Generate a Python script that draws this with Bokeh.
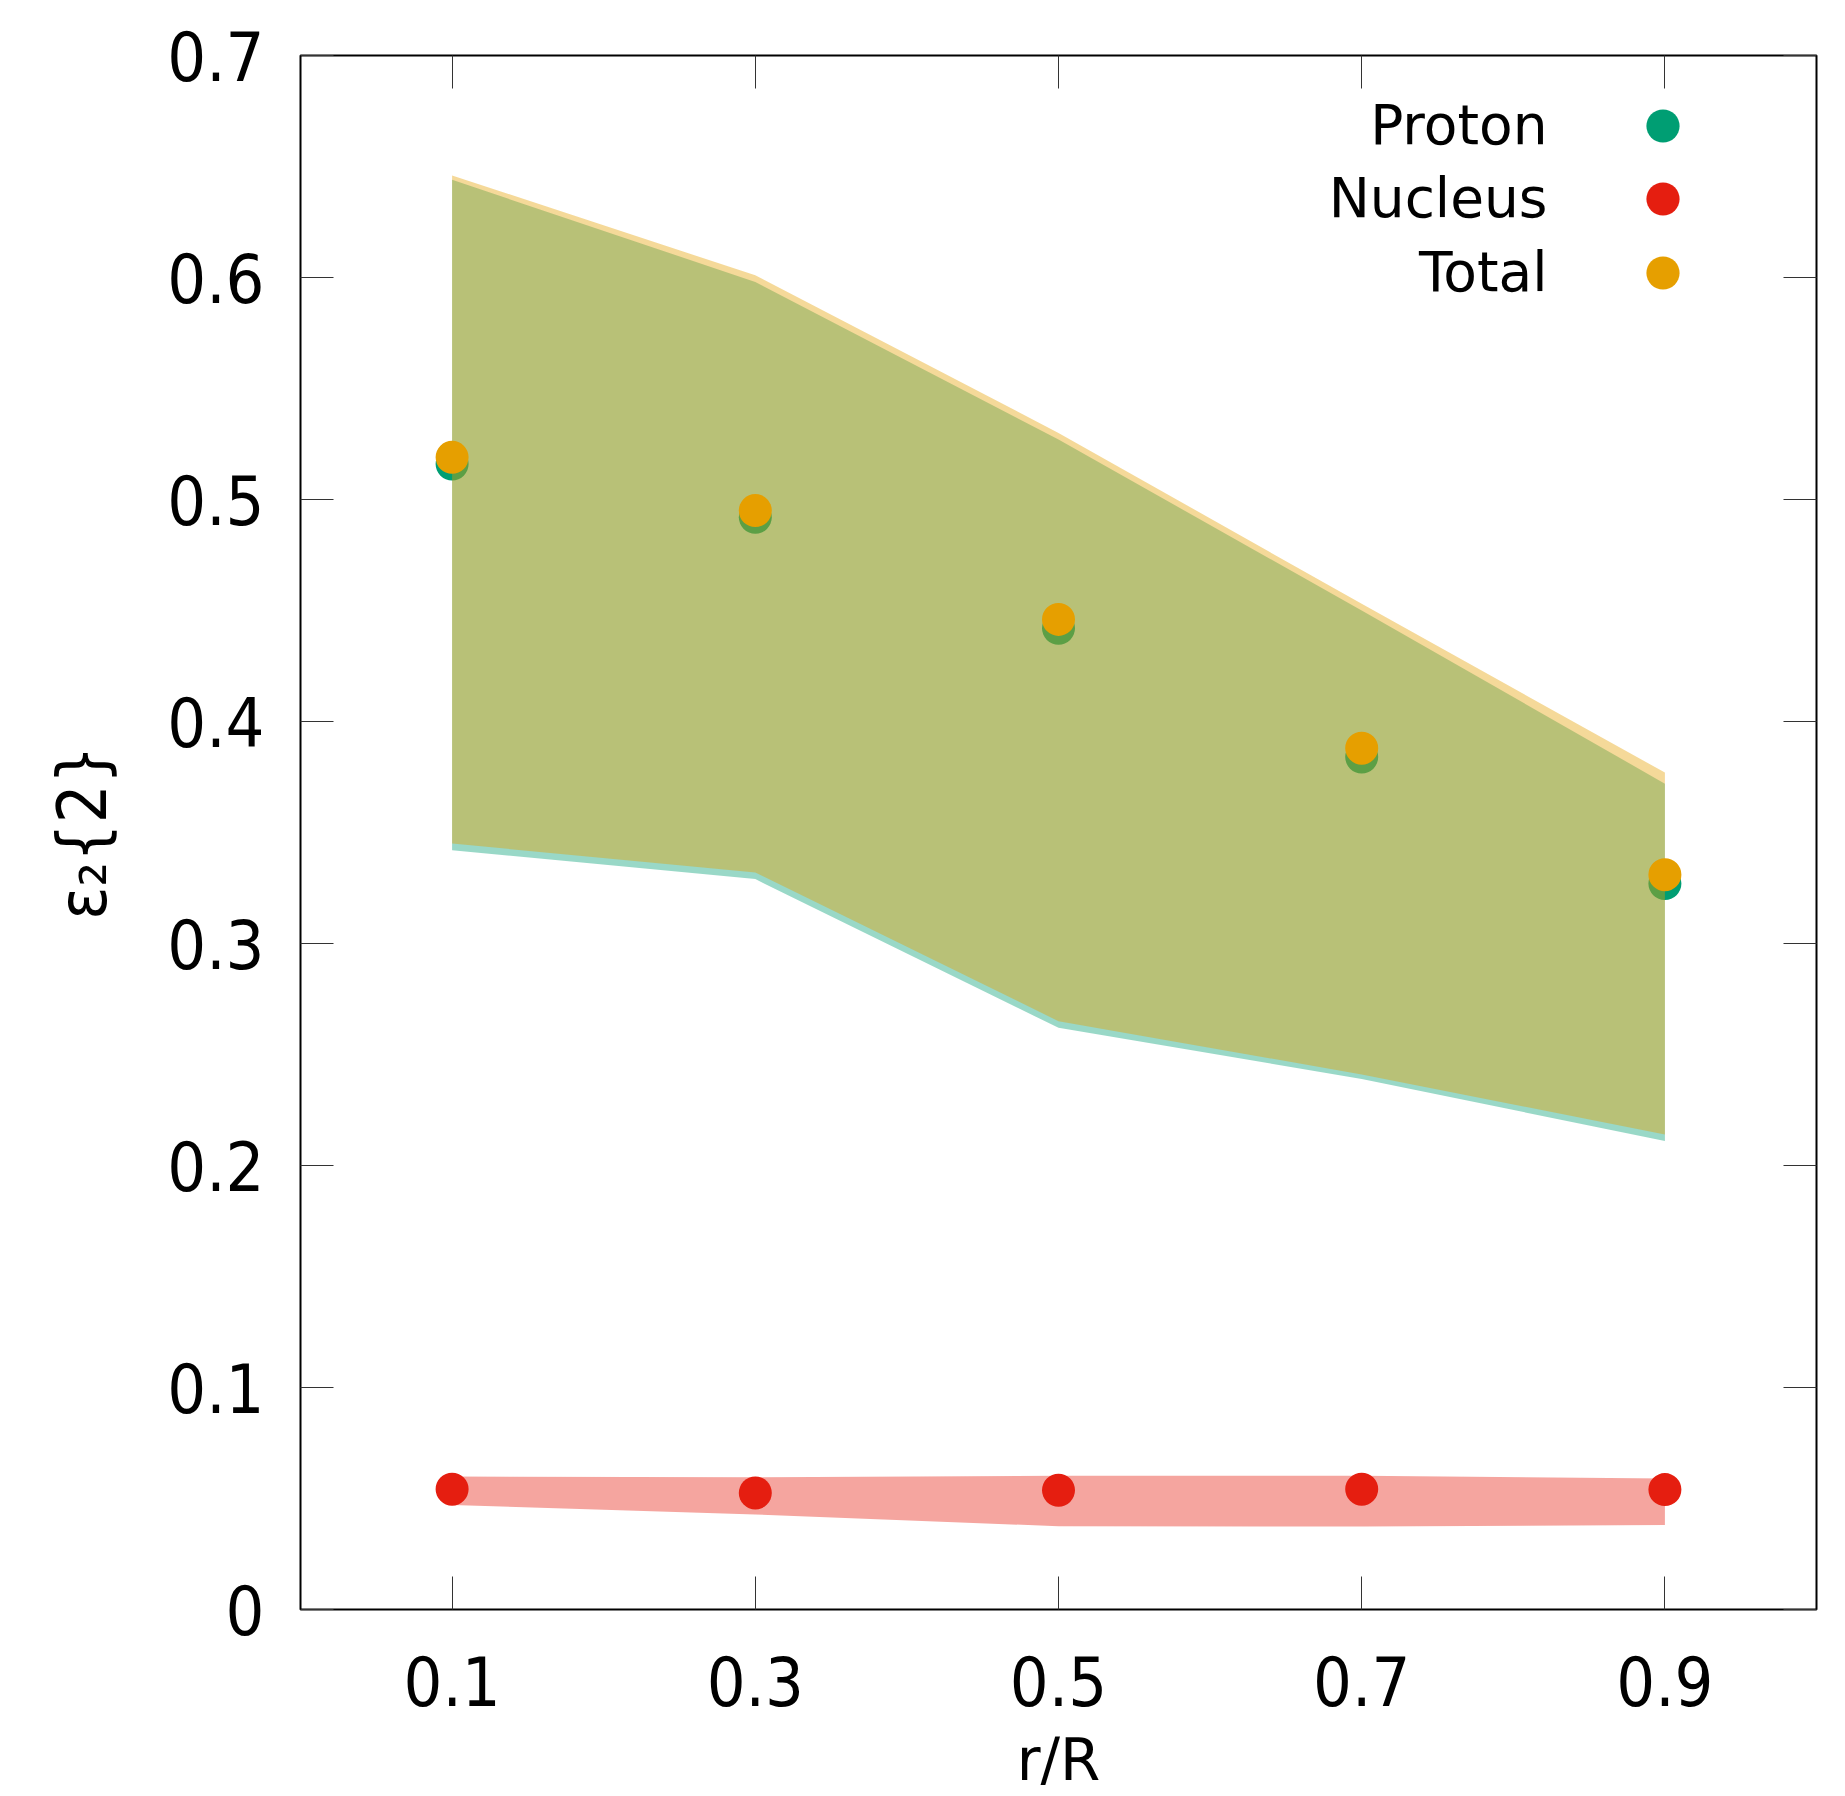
from bokeh.plotting import figure
from bokeh.models import (Range1d, LinearAxis, FixedTicker, CustomJSTickFormatter,
                          Legend, LegendItem, Label)
from bokeh.core.properties import value
from bokeh.embed import file_html
from bokeh.resources import INLINE

# ---- data ----
r_over_R = [0.1, 0.3, 0.5, 0.7, 0.9]

proton = [0.516, 0.492, 0.442, 0.384, 0.327]
proton_lo = [0.342, 0.329, 0.262, 0.239, 0.211]
proton_hi = [0.644, 0.598, 0.527, 0.450, 0.372]

nucleus = [0.0542, 0.0525, 0.0537, 0.0542, 0.0540]
nucleus_lo = [0.0471, 0.0428, 0.0375, 0.0374, 0.0381]
nucleus_hi = [0.0599, 0.0596, 0.0602, 0.0602, 0.0590]

total = [0.519, 0.495, 0.446, 0.388, 0.331]
total_lo = [0.345, 0.332, 0.265, 0.241, 0.214]
total_hi = [0.646, 0.601, 0.530, 0.453, 0.377]

series_names = ["Proton", "Nucleus", "Total"]
x_ticks = [0.1, 0.3, 0.5, 0.7, 0.9]
y_ticks = [0, 0.1, 0.2, 0.3, 0.4, 0.5, 0.6, 0.7]
x_title = "r/R"
y_title = "ε₂{2}"

GREEN = "#009e73"
RED = "#e51e10"
ORANGE = "#e69f00"
TICK_FONT = "DejaVu Sans Condensed"
TEXT_FONT = "DejaVu Sans"

FRAME_W = 1516
FRAME_H = 1555

p = figure(width=1845, height=1796, output_backend="svg", toolbar_location=None,
           x_range=Range1d(0, 1), y_range=Range1d(0, 0.7),
           min_border_left=300, min_border_right=29, min_border_top=55,
           min_border_bottom=186, x_axis_label=x_title, y_axis_label=y_title)
p.xgrid.visible = False
p.ygrid.visible = False
p.outline_line_color = "black"
p.outline_line_width = 2
p.background_fill_color = "white"
p.border_fill_color = "white"

# main axes
xa = p.xaxis[0]
ya = p.yaxis[0]
xa.ticker = FixedTicker(ticks=x_ticks)
ya.ticker = FixedTicker(ticks=y_ticks)
ya.major_label_overrides = {0: "0"}
for ax in (xa, ya):
    ax.axis_line_color = None
    ax.major_tick_in = 33
    ax.major_tick_out = 0
    ax.major_tick_line_color = "#333333"
    ax.major_tick_line_width = 1
    ax.minor_tick_line_color = None
    ax.major_label_text_font = TICK_FONT
    ax.major_label_text_font_size = "68px"
    ax.major_label_text_color = "black"
    ax.axis_label_text_font_style = "normal"
    ax.axis_label_text_color = "black"
xa.major_label_standoff = 46
ya.major_label_standoff = 36
xa.axis_label_text_font = TEXT_FONT
xa.axis_label_text_font_size = "58px"
xa.axis_label_standoff = 17
ya.axis_label_text_font = TICK_FONT
ya.axis_label_text_font_size = "68px"
ya.axis_label_standoff = 42

# mirror axes (ticks only)
blank = CustomJSTickFormatter(code="return ''")
for loc, ticks in (("above", x_ticks), ("right", y_ticks)):
    ax = LinearAxis(ticker=FixedTicker(ticks=ticks), formatter=blank)
    ax.axis_line_color = None
    ax.major_tick_in = 33
    ax.major_tick_out = 0
    ax.major_tick_line_color = "#333333"
    ax.major_tick_line_width = 1
    ax.minor_tick_line_color = None
    ax.major_label_text_font_size = "1px"
    ax.major_label_standoff = 0
    p.add_layout(ax, loc)

# bands and points (drawing order as in the original)
p.varea(x=r_over_R, y1=proton_lo, y2=proton_hi, fill_color=GREEN, fill_alpha=0.4)
rp = p.scatter(r_over_R, proton, size=33, fill_color=GREEN, line_color=None)
p.varea(x=r_over_R, y1=nucleus_lo, y2=nucleus_hi, fill_color=RED, fill_alpha=0.4)
rn = p.scatter(r_over_R, nucleus, size=33, fill_color=RED, line_color=None)
p.varea(x=r_over_R, y1=total_lo, y2=total_hi, fill_color=ORANGE, fill_alpha=0.4)
rt = p.scatter(r_over_R, total, size=33, fill_color=ORANGE, line_color=None)

# key: text on the left, marker on the right (gnuplot style)
ROW_PITCH = 73.5
FIRST_ROW_CENTER = 71          # below frame top
MARK_X = 1362                  # from frame left
TEXT_RIGHT = 1247              # from frame left
GLYPH_BOX = 83
for i, (name, r) in enumerate(zip(series_names, [rp, rn, rt])):
    yc = FRAME_H - (FIRST_ROW_CENTER + i * ROW_PITCH)
    lg = Legend(items=[LegendItem(label=value(""), renderers=[r])],
                location=(MARK_X - GLYPH_BOX / 2, yc - GLYPH_BOX / 2),
                glyph_width=GLYPH_BOX, glyph_height=GLYPH_BOX, label_standoff=0,
                label_text_font_size="1px", padding=0, margin=0,
                border_line_color=None, background_fill_alpha=0)
    p.add_layout(lg)
    p.add_layout(Label(x=TEXT_RIGHT, y=yc + 1, x_units="screen", y_units="screen",
                       text=name, text_align="right", text_baseline="alphabetic",
                       text_font=TEXT_FONT, text_font_size="55px", text_color="black"))

open("out.html", "w").write(file_html(p, INLINE))
